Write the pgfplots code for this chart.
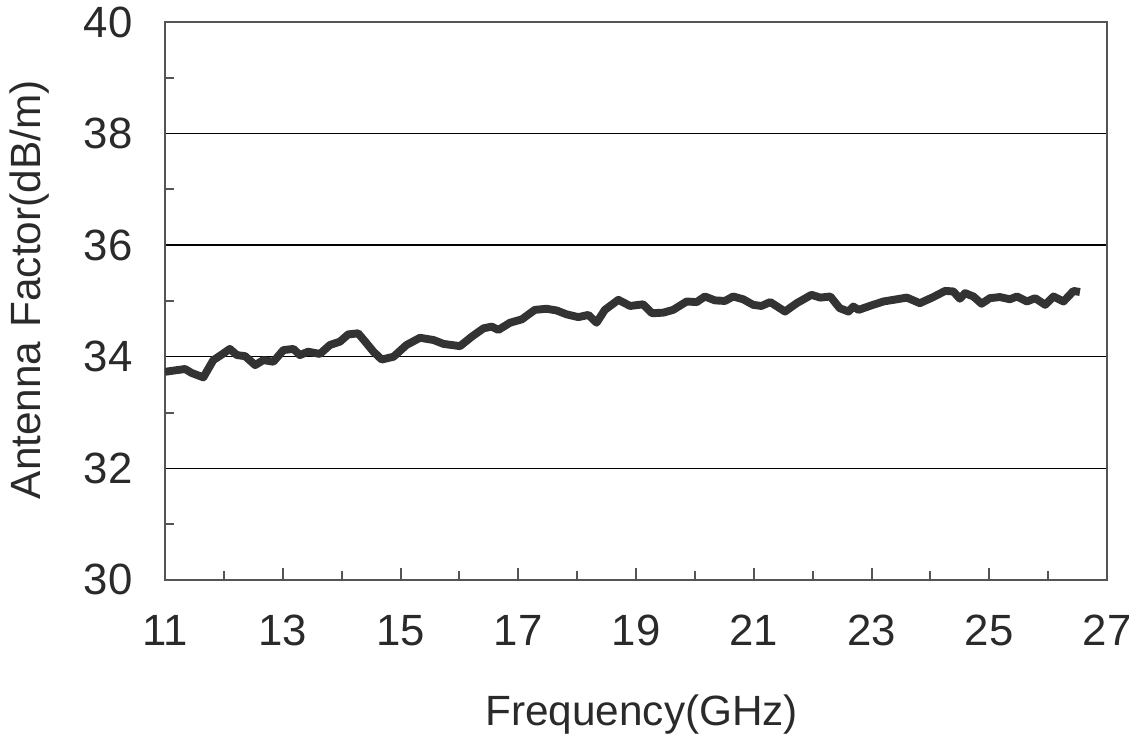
\documentclass[border=0pt]{standalone}
\usepackage{fontspec}
\setmainfont{Liberation Sans}
\usepackage{pgfplots}
\pgfplotsset{compat=1.18}
\usetikzlibrary{calc}
\definecolor{curve}{HTML}{333333}
\definecolor{txt}{HTML}{2A2A2A}
\definecolor{frame}{HTML}{555555}
\begin{document}
\begin{tikzpicture}
\begin{axis}[name=ax,
  scale only axis, width=333.8pt, height=197.7pt,
  xmin=11, xmax=27, ymin=30, ymax=40,
  xtick={11,13,...,27}, minor xtick={12,14,...,26},
  ytick={30,32,...,40}, minor ytick={31,33,...,39},
  tick pos=left, tick align=inside,
  major tick length=4.2pt, minor tick length=3.2pt,
  every tick/.style={frame, line width=0.7pt},
  ytick style={draw=none},
  minor y tick style={draw=frame, line width=0.7pt},
  ymajorgrids, grid style={black, line width=0.5pt},
  axis line style={frame, line width=0.8pt},
  font=\fontsize{15.5}{18}\selectfont,
  /pgf/number format/assume math mode=true,
  ticklabel style={text=txt},
  xticklabel style={yshift=-9pt},
  yticklabel style={xshift=-8pt},
  xlabel={Frequency(GHz)}, ylabel={Antenna\,\,Factor(dB/m)},
  label style={text=txt, font=\fontsize{15}{18}\selectfont},
  xlabel style={at={(axis description cs:0.506,-0.242)}, anchor=center},
  ylabel style={at={(axis description cs:-0.1435,0.52)}, anchor=center},
]
\addplot[curve, line width=2.8pt, line join=round] coordinates {
(11.0,33.73) (11.20,33.76) (11.34,33.78) (11.45,33.71) (11.65,33.63) (11.82,33.94)
(11.95,34.03) (12.10,34.14) (12.22,34.03) (12.36,34.01) (12.53,33.85) (12.67,33.94)
(12.84,33.91) (13.01,34.12) (13.18,34.14) (13.29,34.03) (13.43,34.09) (13.63,34.05)
(13.80,34.21) (13.97,34.27) (14.11,34.40) (14.28,34.42) (14.40,34.27) (14.54,34.09)
(14.68,33.95) (14.88,34.00) (15.10,34.21) (15.33,34.34) (15.56,34.30) (15.73,34.23)
(16.01,34.19) (16.21,34.36) (16.41,34.51) (16.55,34.54) (16.66,34.48) (16.86,34.61)
(17.06,34.67) (17.28,34.84) (17.48,34.86) (17.65,34.83) (17.82,34.76) (18.02,34.71)
(18.19,34.75) (18.33,34.61) (18.47,34.84) (18.70,35.02) (18.90,34.91) (19.12,34.94)
(19.27,34.78) (19.46,34.79) (19.63,34.84) (19.86,34.99) (20.03,34.98) (20.17,35.08)
(20.34,35.01) (20.51,35.00) (20.65,35.08) (20.82,35.03) (20.99,34.93) (21.13,34.91)
(21.28,34.98) (21.53,34.81) (21.73,34.96) (21.98,35.11) (22.13,35.06) (22.30,35.08)
(22.46,34.87) (22.61,34.81) (22.69,34.90) (22.78,34.84) (22.97,34.91) (23.20,34.99)
(23.43,35.03) (23.60,35.06) (23.82,34.96) (24.05,35.07) (24.25,35.18) (24.39,35.17)
(24.50,35.04) (24.59,35.14) (24.73,35.08) (24.87,34.95) (25.01,35.05) (25.18,35.07)
(25.35,35.03) (25.47,35.08) (25.64,34.99) (25.78,35.05) (25.95,34.93) (26.09,35.08)
(26.26,34.99) (26.37,35.11) (26.43,35.18) (26.54,35.16)
};
\end{axis}
\pgfresetboundingbox
\path ($(ax.south west)+(-58.5pt,-57.4pt)$) rectangle ($(ax.north east)+(7.8pt,7.8pt)$);
\end{tikzpicture}
\end{document}
